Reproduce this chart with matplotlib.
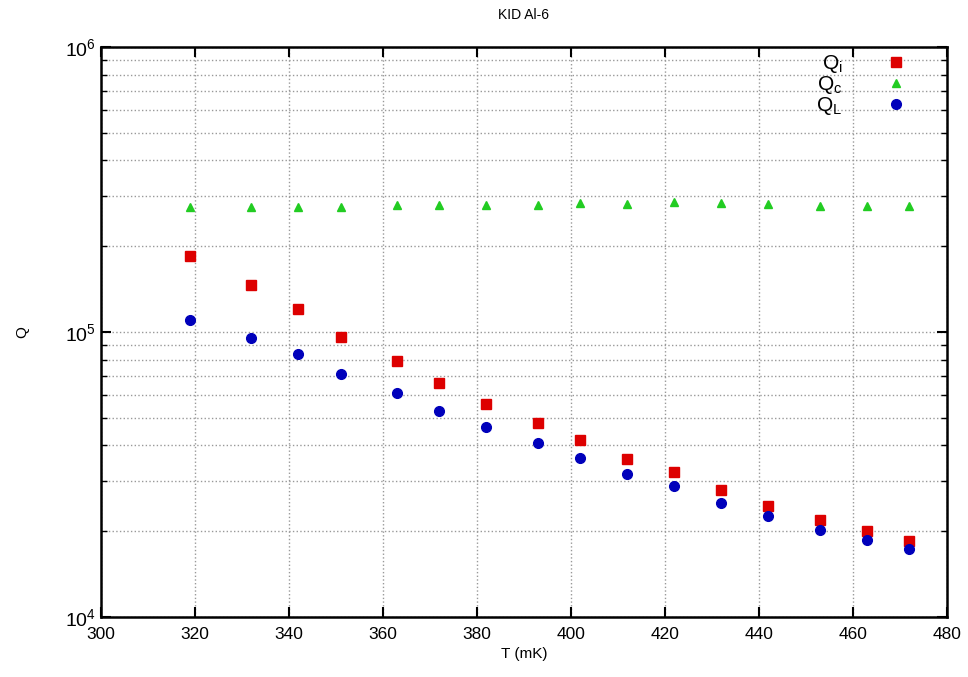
import matplotlib
matplotlib.use('Agg')
import matplotlib.pyplot as plt
from matplotlib.ticker import LogLocator, NullFormatter

plt.rcParams['font.family'] = ['Liberation Sans', 'DejaVu Sans']
plt.rcParams['mathtext.fontset'] = 'custom'
plt.rcParams['mathtext.rm'] = 'Liberation Sans'
plt.rcParams['mathtext.it'] = 'Liberation Sans'

# temperature in mK
T = [319, 332, 342, 351, 363, 372, 382, 393, 402, 412, 422, 432, 442, 453, 463, 472]
# quality factors
Qi = [1.85e5, 1.46e5, 1.20e5, 9.6e4, 7.9e4, 6.6e4, 5.6e4, 4.8e4, 4.18e4, 3.58e4,
      3.23e4, 2.79e4, 2.45e4, 2.19e4, 2.0e4, 1.85e4]
Qc = [2.75e5, 2.75e5, 2.74e5, 2.75e5, 2.78e5, 2.78e5, 2.79e5, 2.80e5, 2.83e5, 2.82e5,
      2.86e5, 2.83e5, 2.82e5, 2.77e5, 2.76e5, 2.77e5]
QL = [1.10e5, 9.5e4, 8.4e4, 7.1e4, 6.1e4, 5.3e4, 4.64e4, 4.08e4, 3.61e4, 3.18e4,
      2.88e4, 2.51e4, 2.26e4, 2.02e4, 1.86e4, 1.73e4]

fig = plt.figure(figsize=(9.68, 6.77), dpi=100)
ax = fig.add_axes([0.1043, 0.0886, 0.874, 0.842])

ax.plot(T, Qi, 's', color='#dd0000', ms=7, label='$Q_i$', zorder=3)
ax.plot(T, Qc, '^', color='#22cc22', ms=6, label='$Q_c$', zorder=3)
ax.plot(T, QL, 'o', color='#0000bb', ms=7, label='$Q_L$', zorder=3)

ax.set_yscale('log')
ax.set_xlim(300, 480)
ax.set_ylim(1e4, 1e6)
ax.set_xticks(range(300, 481, 20))
ax.yaxis.set_major_locator(LogLocator(base=10, numticks=5))
ax.yaxis.set_minor_locator(LogLocator(base=10, subs=range(2, 10), numticks=20))
ax.yaxis.set_minor_formatter(NullFormatter())

ax.grid(True, which='major', axis='x', color='#999999', ls=':', lw=1)
ax.grid(True, which='both', axis='y', color='#999999', ls=':', lw=1)

ax.tick_params(which='both', direction='in', top=True, right=True, labelsize=12.5)
ax.tick_params(which='major', length=7, width=1.5)
ax.tick_params(which='minor', length=4, width=1)
ax.tick_params(axis='x', pad=7)
ax.tick_params(axis='y', labelsize=14)
for s in ax.spines.values():
    s.set_linewidth(1.8)

ax.set_xlabel('T (mK)', fontsize=11)
ax.set_ylabel('Q', fontsize=11, labelpad=26)
ax.set_title('KID Al-6', fontsize=10, pad=20)

ax.legend(loc='upper right', markerfirst=False, frameon=False, fontsize=15,
          handletextpad=1.6, labelspacing=-0.05, bbox_to_anchor=(0.987, 1.022))

fig.savefig('out.png', dpi=100)
